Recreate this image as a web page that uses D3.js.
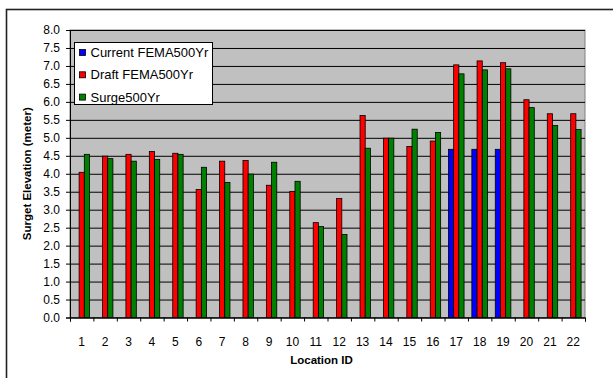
<!DOCTYPE html>
<html>
<head>
<meta charset="utf-8">
<script src="https://cdn.jsdelivr.net/npm/d3@7"></script>
<style>
  body { margin: 0; background: #fff; }
  text { font-family: Arial, "Liberation Sans", sans-serif; }
</style>
</head>
<body>
<svg id="drawing_region"></svg>
<script>
// chart values
const locations = d3.range(1, 23).map(String);
const seriesNames = ["Current FEMA500Yr", "Draft FEMA500Yr", "Surge500Yr"];
const seriesColors = ["#0000ff", "#ff0000", "#008000"];
const currentFema = [null, null, null, null, null, null, null, null, null, null, null,
                     null, null, null, null, null, 4.68, 4.68, 4.68, null, null, null];
const draftFema = [4.04, 4.49, 4.54, 4.62, 4.57, 3.56, 4.35, 4.37, 3.68, 3.51, 2.64,
                   3.31, 5.62, 4.99, 4.76, 4.91, 7.03, 7.14, 7.09, 6.06, 5.67, 5.67];
const surge = [4.54, 4.42, 4.35, 4.40, 4.54, 4.18, 3.76, 3.99, 4.32, 3.79, 2.53,
               2.31, 4.71, 4.99, 5.24, 5.15, 6.78, 6.89, 6.92, 5.84, 5.34, 5.23];
const yTicks = d3.range(0, 8.01, 0.5);

const data = locations.map((id, i) => ({
    id: id,
    values: [currentFema[i], draftFema[i], surge[i]]
}));

class BarChart {

    constructor( config, data ) {
        this.config = config;
        this.data = data;
        this.init();
    }

    init() {
        let self = this;
        const m = self.config.margin;

        self.svg = d3.select( self.config.parent )
            .attr('width', self.config.width)
            .attr('height', self.config.height);

        // outer frame (right and bottom edges fall outside the picture)
        self.svg.append('rect')
            .attr('x', 6.5).attr('y', 9.5)
            .attr('width', 640).attr('height', 400)
            .attr('fill', 'none')
            .attr('stroke', '#222')
            .attr('stroke-width', 1.6);

        self.chart = self.svg.append('g')
            .attr('transform', `translate(${m.left}, ${m.top})`);

        self.inner_width = self.config.width - m.left - m.right;
        self.inner_height = self.config.height - m.top - m.bottom;

        self.xscale = d3.scaleBand()
            .domain(self.data.map(d => d.id))
            .range([0, self.inner_width]);

        self.subscale = d3.scaleBand()
            .domain(d3.range(seriesNames.length))
            .range([0, self.xscale.bandwidth()])
            .paddingOuter(0.75);

        // boundary ticks between categories
        self.edgescale = d3.scaleLinear()
            .domain([0, locations.length])
            .range([0, self.inner_width]);

        self.yscale = d3.scaleLinear()
            .domain([0, 8])
            .range([self.inner_height, 0]);
    }

    render() {
        let self = this;

        self.chart.append('rect')
            .attr('width', self.inner_width)
            .attr('height', self.inner_height)
            .attr('fill', '#c0c0c0')
            .attr('stroke', '#808080')
            .attr('stroke-width', 1);

        // grid lines
        self.chart.append('g')
            .call(d3.axisLeft(self.yscale).tickValues(yTicks)
                .tickSize(-self.inner_width).tickFormat(''))
            .call(g => g.select('.domain').remove())
            .selectAll('line')
            .attr('stroke', '#000')
            .attr('stroke-width', 1);

        const groups = self.chart.selectAll('.loc')
            .data(self.data)
            .enter()
            .append('g')
            .attr('transform', d => `translate(${self.xscale(d.id)},0)`);

        groups.selectAll('rect')
            .data(d => d.values.map((v, k) => ({k: k, v: v})).filter(e => e.v != null))
            .enter()
            .append('rect')
            .attr('x', e => self.subscale(e.k))
            .attr('y', e => self.yscale(e.v))
            .attr('width', self.subscale.bandwidth())
            .attr('height', e => self.inner_height - self.yscale(e.v))
            .attr('fill', e => seriesColors[e.k])
            .attr('stroke', '#000')
            .attr('stroke-width', 0.8);

        // y axis
        const yaxis = self.chart.append('g')
            .call(d3.axisLeft(self.yscale).tickValues(yTicks)
                .tickFormat(d3.format('.1f')).tickSize(4).tickPadding(6));
        yaxis.selectAll('text').style('font-size', '12px').attr('fill', '#000');
        yaxis.selectAll('line, .domain').attr('stroke', '#000');

        // x axis ticks and labels
        const xticks = self.chart.append('g')
            .attr('transform', `translate(0, ${self.inner_height})`)
            .call(d3.axisBottom(self.edgescale).tickValues(d3.range(0, locations.length + 1))
                .tickSize(4).tickFormat(''));
        xticks.selectAll('line, .domain').attr('stroke', '#000');

        const xlabels = self.chart.append('g')
            .attr('transform', `translate(0, ${self.inner_height})`)
            .call(d3.axisBottom(self.xscale).tickSize(0).tickPadding(20));
        xlabels.select('.domain').remove();
        xlabels.selectAll('text').style('font-size', '12px').attr('fill', '#000');

        // axis titles
        self.svg.append('text')
            .attr('x', self.config.margin.left + self.inner_width / 2 - 6)
            .attr('y', 364)
            .attr('text-anchor', 'middle')
            .style('font-size', '11.5px')
            .style('font-weight', 'bold')
            .text('Location ID');

        self.svg.append('text')
            .attr('transform', `translate(31, ${self.config.margin.top + self.inner_height / 2}) rotate(-90)`)
            .attr('text-anchor', 'middle')
            .style('font-size', '11.5px')
            .style('font-weight', 'bold')
            .text('Surget Elevation (meter)');

        // legend
        const legend = self.svg.append('g');
        legend.append('rect')
            .attr('x', 74.5).attr('y', 42.5)
            .attr('width', 138).attr('height', 62)
            .attr('fill', '#fff')
            .attr('stroke', '#000')
            .attr('stroke-width', 1);

        const items = legend.selectAll('.item')
            .data(seriesNames)
            .enter()
            .append('g')
            .attr('transform', (d, i) => `translate(79, ${52.5 + i * 22.3})`);
        items.append('rect')
            .attr('x', 0.5).attr('y', -3)
            .attr('width', 6).attr('height', 6)
            .attr('fill', (d, i) => seriesColors[i])
            .attr('stroke', '#000')
            .attr('stroke-width', 0.8);
        items.append('text')
            .attr('x', 11.5)
            .attr('y', 4.5)
            .style('font-size', '13px')
            .text(d => d);
    }
}

const config = {
    parent: '#drawing_region',
    width: 613,
    height: 378,
    margin: {top: 30, right: 28, bottom: 60.5, left: 70}
};

const bar_chart = new BarChart( config, data );
bar_chart.render();
</script>
</body>
</html>
